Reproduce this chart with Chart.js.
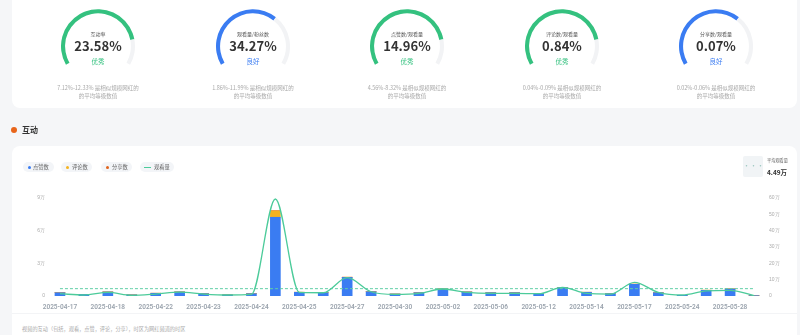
<!DOCTYPE html>
<html lang="zh">
<head>
<meta charset="UTF-8">
<title>互动</title>
<script src="https://cdn.jsdelivr.net/npm/chart.js"></script>
<style>
    body {
        margin: 0;
        width: 800px;
        height: 335px;
        overflow: hidden;
        background: #f5f6f8;
        font-family: "Noto Sans CJK SC", "Noto Sans", sans-serif;
        position: relative;
    }
    .card {
        position: absolute;
        background: #fff;
        border-radius: 8px;
    }
    .t {
        position: absolute;
        transform: translate(-50%, -50%);
        white-space: nowrap;
        text-align: center;
    }
    .gauge {
        position: absolute;
        top: 9px;
        width: 74px;
        height: 56px;
    }
    .pill {
        position: absolute;
        top: 162px;
        height: 10px;
        border-radius: 5px;
        background: #f3f5f8;
        font-size: 5.3px;
        color: #666;
        line-height: 10px;
    }
    .pill i {
        position: absolute;
        top: 3.5px;
        width: 3px;
        height: 3px;
        border-radius: 50%;
    }
    .pill span { position: absolute; top: 0; }
</style>
</head>
<body>
<div class="card" style="left:12px;top:-8px;width:785px;height:116px;"></div>
<div class="card" style="left:12px;top:146px;width:785px;height:200px;"></div>
<div id="gauges"></div>

<div style="position:absolute;left:11px;top:127px;width:6px;height:6px;border-radius:50%;background:#e8651a;"></div>
<div style="position:absolute;left:22px;top:124px;font-size:8px;font-weight:700;color:#333;line-height:12px;">互动</div>

<div class="pill" style="left:23px;width:31px;"><i style="left:5px;background:#3a7cf2;"></i><span style="left:10px;">点赞数</span></div>
<div class="pill" style="left:61px;width:31px;"><i style="left:5px;background:#f5b21f;"></i><span style="left:11px;">评论数</span></div>
<div class="pill" style="left:101px;width:31px;"><i style="left:5px;background:#e0631a;"></i><span style="left:11px;">分享数</span></div>
<div class="pill" style="left:140px;width:34px;"><i style="left:4px;top:4.5px;width:7px;height:1.5px;border-radius:0;background:#4ccb9a;"></i><span style="left:14px;">观看量</span></div>

<div style="position:absolute;left:743px;top:156px;width:20px;height:21px;background:#f1f4f6;border-radius:2px;color:#9bc7bf;font-size:7px;line-height:19px;text-align:center;">···</div>
<div style="position:absolute;left:767px;top:157px;font-size:4.2px;color:#666;">平均观看量</div>
<div style="position:absolute;left:767px;top:167px;font-size:6.5px;color:#333;font-weight:600;">4.49万</div>

<div style="position:absolute;left:12px;top:313px;width:785px;height:1px;background:#f3f4f6;"></div>
<div style="position:absolute;left:22px;top:325px;font-size:5.2px;color:#aaa;">视频的互动（包括，观看，点赞，评论，分享），时区为网红频道的时区</div>

<div style="position:absolute;left:0;top:190px;width:800px;height:126px;">
    <canvas id="mainChart"></canvas>
</div>

<script>
    // gauges
    const gaugeNames = ['互动率', '观看量/粉丝数', '点赞数/观看量', '评论数/观看量', '分享数/观看量'];
    const gaugeValues = ['23.58%', '34.27%', '14.96%', '0.84%', '0.07%'];
    const gaugeGrades = ['优秀', '良好', '优秀', '优秀', '良好'];
    const gaugeFill = [0.83, 0.66, 0.83, 0.83, 0.66];
    const gaugeRanges = ['7.12%-12.33%', '1.86%-11.99%', '4.56%-8.32%', '0.04%-0.09%', '0.02%-0.06%'];
    const gaugeCenters = [98, 253, 407, 562, 716];

    // interaction chart
    const dates = [
        '2025-04-17', '2025-04-17', '2025-04-18', '2025-04-20', '2025-04-22', '2025-04-22',
        '2025-04-23', '2025-04-23', '2025-04-24', '2025-04-24', '2025-04-25', '2025-04-26',
        '2025-04-27', '2025-04-28', '2025-04-30', '2025-05-01', '2025-05-02', '2025-05-04',
        '2025-05-06', '2025-05-09', '2025-05-12', '2025-05-13', '2025-05-14', '2025-05-15',
        '2025-05-17', '2025-05-20', '2025-05-24', '2025-05-26', '2025-05-28', '2025-05-30'
    ];
    const likes = [3000, 1500, 3700, 1000, 2500, 3700, 2100, 1000, 2100, 72300, 3400, 3000, 17100, 3900, 1800,
                   3000, 6400, 3700, 3000, 3000, 2100, 7600, 3400, 2100, 10700, 3000, 600, 5200, 6400, 300];
    const comments = [60, 30, 70, 20, 50, 70, 40, 20, 40, 5800, 60, 60, 150, 70, 30,
                      60, 120, 70, 60, 60, 40, 140, 60, 40, 180, 60, 15, 100, 120, 5];
    const shares = [10, 5, 12, 5, 8, 12, 8, 5, 8, 300, 10, 10, 40, 12, 5,
                    10, 20, 12, 10, 10, 8, 25, 10, 8, 35, 10, 3, 18, 20, 1];
    const views = [14000, 6000, 22000, 4000, 12000, 24000, 12000, 6000, 10000, 594000, 22000, 20000, 112000, 26000, 10000,
                   16000, 43000, 22000, 16000, 16000, 14000, 53000, 16000, 12000, 84000, 22000, 6000, 31000, 35000, 2000];
    const avgViews = 44900;

    const green = '#34c17f';
    const blue = '#3a7cf2';

    const holder = document.getElementById('gauges');
    gaugeCenters.forEach((cx, i) => {
        const color = gaugeGrades[i] === '优秀' ? green : blue;
        const wrap = document.createElement('div');
        wrap.className = 'gauge';
        wrap.style.left = (cx - 37) + 'px';
        const c = document.createElement('canvas');
        wrap.appendChild(c);
        holder.appendChild(wrap);

        const texts = [
            [gaugeNames[i], 33, '5px', '#555', 400],
            [gaugeValues[i], 45, '13px', '#333', 700],
            [gaugeGrades[i], 61, '6.5px', color, 400],
            [gaugeRanges[i] + ' 是相似规模网红的', 88, '5.5px', '#aaa', 400],
            ['的平均等级数值', 96, '5.5px', '#aaa', 400]
        ];
        texts.forEach(([txt, y, size, col, w]) => {
            const d = document.createElement('div');
            d.className = 't';
            d.textContent = txt;
            d.style.left = cx + 'px';
            d.style.top = y + 'px';
            d.style.fontSize = size;
            d.style.color = col;
            d.style.fontWeight = w;
            holder.appendChild(d);
        });

        new Chart(c, {
            type: 'doughnut',
            data: {
                datasets: [{
                    data: [gaugeFill[i], 1 - gaugeFill[i]],
                    backgroundColor: [color, '#f2f3f5'],
                    borderWidth: 0
                }]
            },
            options: {
                responsive: true,
                maintainAspectRatio: false,
                animation: false,
                circumference: 240,
                rotation: -120,
                cutout: '89%',
                plugins: { legend: { display: false }, tooltip: { enabled: false } }
            }
        });
    });

    const wan = v => v === 0 ? '0' : (v / 10000) + '万';

    new Chart(document.getElementById('mainChart'), {
        data: {
            labels: dates,
            datasets: [
                { type: 'line', label: '观看量', data: views, yAxisID: 'y1', borderColor: '#4ccb9a', borderWidth: 1.3,
                  pointRadius: 0, cubicInterpolationMode: 'monotone', order: 0 },
                { type: 'line', label: '平均观看量', data: dates.map(() => avgViews), yAxisID: 'y1', borderColor: '#5fcfa6',
                  borderWidth: 1, borderDash: [3, 2], pointRadius: 0, order: 0 },
                { type: 'bar', label: '点赞数', data: likes, backgroundColor: blue, barThickness: 10, order: 1 },
                { type: 'bar', label: '评论数', data: comments, backgroundColor: '#f5b21f', barThickness: 10, order: 1 },
                { type: 'bar', label: '分享数', data: shares, backgroundColor: '#e0631a', barThickness: 10, order: 1 }
            ]
        },
        options: {
            responsive: true,
            maintainAspectRatio: false,
            animation: false,
            layout: { padding: { top: 8, left: 0, right: 0, bottom: 0 } },
            plugins: { legend: { display: false }, tooltip: { enabled: false } },
            scales: {
                x: {
                    stacked: true,
                    grid: { display: false, drawTicks: false },
                    border: { display: false },
                    ticks: {
                        autoSkip: false, maxRotation: 0, padding: 7,
                        color: '#9aa3ad', font: { size: 6.5, weight: '600', family: 'Roboto' },
                        callback: (v, i) => i % 2 === 0 ? dates[i] : ''
                    },
                    afterFit: s => { s.height = 20; }
                },
                y: {
                    stacked: true, position: 'left', min: 0, max: 90000,
                    grid: { display: false, drawTicks: false },
                    border: { display: false },
                    ticks: { stepSize: 30000, padding: 3, color: '#aaa', font: { size: 5 }, callback: wan },
                    afterFit: s => { s.width = 48; }
                },
                y1: {
                    stacked: false, position: 'right', min: 0, max: 600000,
                    grid: { display: false, drawTicks: false },
                    border: { display: false },
                    ticks: { stepSize: 100000, padding: 3, color: '#aaa', font: { size: 5 }, callback: wan },
                    afterFit: s => { s.width = 34; }
                }
            }
        }
    });
</script>
</body>
</html>
